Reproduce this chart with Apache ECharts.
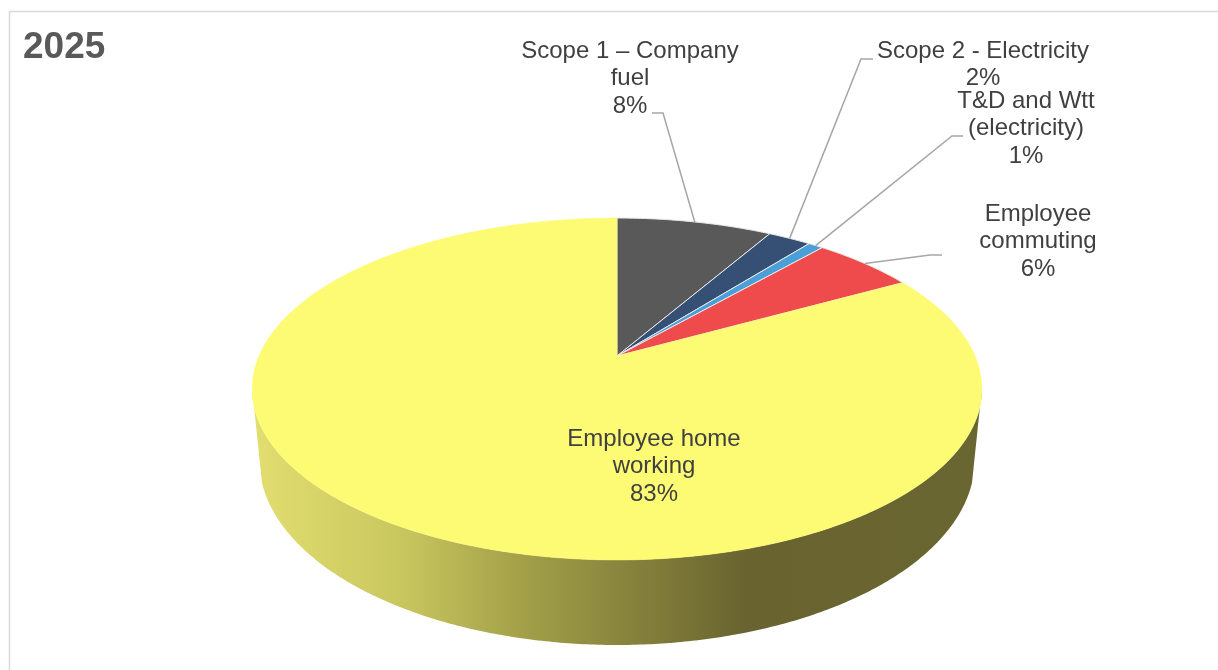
<!DOCTYPE html>
<html>
<head>
<meta charset="utf-8">
<style>html,body{margin:0;padding:0;background:#fff;overflow:hidden}#c{width:1218px;height:670px}</style>
<script src="https://cdn.jsdelivr.net/npm/echarts@6/dist/echarts.min.js"></script>
</head>
<body>
<div id="c"></div>
<script>
var chartTitle = '2025';
var categories = ['Scope 1 – Company\nfuel', 'Scope 2 - Electricity', 'T&D and Wtt\n(electricity)', 'Employee\ncommuting', 'Employee home\nworking'];
var values = [8.3, 2.3, 0.8, 5.5, 83.1];

// styles and layout, separate from the data
var colors = ['#595959', '#354f75', '#4a9fd8', '#ef4b4d', '#fdfb74'];
var labelCenters = [[630, 78.5], [983, 65], [1026, 128.5], [1038, 241.5], [654, 466.5]];
var leaderBends = [[[663, 113], [652, 113]], [[861, 59], [873, 59]], [[952, 136], [963, 136]], [[930, 255], [942, 255]], null];
var LABEL_FONT = '24px "Liberation Sans", Arial, sans-serif';

var CX = 617, P = 0.193;
var TOP = { y0: 356, a: 358, b: 164.6 };
var BOTTOM = { y0: 424.4, a: 351, b: 178 };

function project(deg, e) {
  var t = deg * Math.PI / 180, u = Math.sin(t), v = Math.cos(t), w = 1 + P * v;
  return [CX + e.a * u / w, e.y0 - e.b * v / w];
}
function arc(from, to, e) {
  var pts = [], n = Math.max(2, Math.ceil(Math.abs(to - from) * 2));
  for (var i = 0; i <= n; i++) pts.push(project(from + (to - from) * i / n, e));
  return pts;
}
var total = values.reduce(function (a, b) { return a + b; }, 0);
var WALL_FROM = 101, WALL_TO = 259, WALL_BOTTOM_FROM = 108, WALL_BOTTOM_TO = 252;
var wallFill = new echarts.graphic.LinearGradient(252, 0, 982, 0, [
  { offset: 0, color: '#e2de70' },
  { offset: 0.2, color: '#c9c85f' },
  { offset: 0.36, color: '#a5a24a' },
  { offset: 0.5, color: '#8a863e' },
  { offset: 0.68, color: '#68632f' },
  { offset: 1, color: '#6a6631' }
], true);

var rows = values.map(function (v, i) { return [v, i]; });

function renderItem(params, api) {
  var value = api.value(0), idx = api.value(1), start = 0;
  for (var k = 0; k < idx; k++) start += values[k];
  var from = start / total * 360, to = (start + value) / total * 360;
  var kids = [];

  var wf = Math.max(from, WALL_FROM), wt = Math.min(to, WALL_TO);
  if (wt > wf) {
    var bf = Math.max(from, WALL_BOTTOM_FROM), bt = Math.min(to, WALL_BOTTOM_TO);
    kids.push({
      type: 'polygon',
      shape: { points: arc(wf, wt, TOP).concat(arc(bt, bf, BOTTOM)) },
      style: { fill: wallFill, stroke: null }
    });
  }
  kids.push({
    type: 'polygon',
    shape: { points: [[CX, TOP.y0]].concat(arc(from, to, TOP)) },
    style: { fill: colors[idx], stroke: idx === 4 ? '#fdfb74' : '#e8e8e8', lineWidth: idx === 4 ? 0.5 : 1 }
  });
  if (leaderBends[idx]) {
    kids.push({
      type: 'polyline',
      shape: { points: [project((from + to) / 2, TOP)].concat(leaderBends[idx]) },
      style: { stroke: '#a6a6a6', lineWidth: 1.5, fill: null }
    });
  }
  kids.push({
    type: 'text',
    z2: 10,
    style: {
      x: labelCenters[idx][0], y: labelCenters[idx][1],
      text: categories[idx] + '\n' + Math.round(value) + '%',
      font: LABEL_FONT, fill: '#404040',
      align: 'center', verticalAlign: 'middle', lineHeight: 27.5
    }
  });
  return { type: 'group', children: kids };
}

var chart = echarts.init(document.getElementById('c'), null, { renderer: 'canvas', width: 1218, height: 670 });
chart.setOption({
  animation: false,
  backgroundColor: '#fff',
  title: {
    text: chartTitle, left: 23, top: 29, padding: 0,
    textStyle: { color: '#595959', fontFamily: '"Liberation Sans", Arial, sans-serif', fontWeight: 'bold', fontSize: 37 }
  },
  graphic: [{
    type: 'rect', silent: true, z: -1,
    shape: { x: 9.5, y: 11.5, width: 1400, height: 900 },
    style: { fill: '#fff', stroke: '#d9d9d9', lineWidth: 1.5 }
  }],
  series: [{
    type: 'custom',
    coordinateSystem: 'none',
    silent: true,
    clip: false,
    data: rows,
    renderItem: renderItem
  }]
});
</script>
</body>
</html>
